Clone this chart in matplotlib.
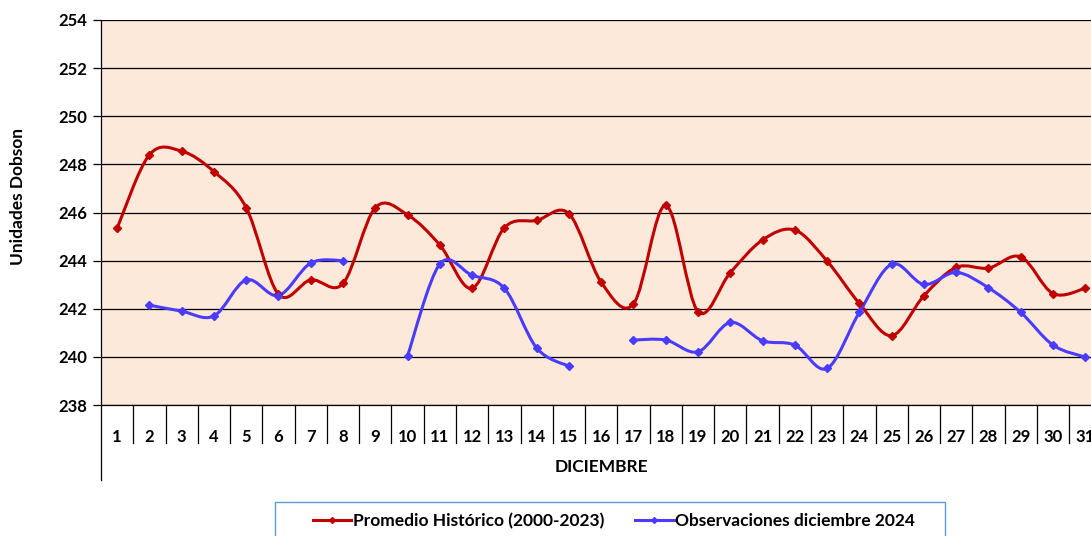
import matplotlib.pyplot as plt
from matplotlib.path import Path
from matplotlib.patches import PathPatch, Rectangle
from matplotlib.lines import Line2D
import numpy as np

plt.rcParams['font.family'] = ['Lato', 'DejaVu Sans']

days = list(range(1, 32))
promedio = [245.35, 248.4, 248.55, 247.7, 246.2, 242.6, 243.2, 243.05, 246.2, 245.9,
            244.65, 242.85, 245.37, 245.67, 245.95, 243.1, 242.2, 246.3, 241.88, 243.5,
            244.86, 245.27, 243.98, 242.22, 240.88, 242.54, 243.72, 243.69, 244.16, 242.63,
            242.85]
observ = [None, 242.15, 241.9, 241.7, 243.2, 242.55, 243.9, 244.0, None, 240.05,
          243.86, 243.39, 242.85, 240.37, 239.61, None, 240.7, 240.7, 240.21, 241.43,
          240.67, 240.49, 239.52, 241.85, 243.85, 243.01, 243.51, 242.87, 241.85, 240.49,
          239.99]

RED = '#C00000'
BLUE = '#4A3CFF'


def smooth_path(xs, ys):
    '''Excel-like smoothed line: cubic bezier through each run of points'''
    verts, codes = [], []
    runs, cur = [], []
    for x, y in zip(xs, ys):
        if y is None:
            if cur:
                runs.append(cur)
            cur = []
        else:
            cur.append((x, y))
    if cur:
        runs.append(cur)
    for run in runs:
        p = np.array(run, dtype=float)
        n = len(p)
        verts.append(p[0]); codes.append(Path.MOVETO)
        for i in range(n - 1):
            p0 = p[i - 1] if i > 0 else p[i]
            p3 = p[i + 2] if i + 2 < n else p[i + 1]
            c1 = p[i] + (p[i + 1] - p0) / 6.0
            c2 = p[i + 1] - (p3 - p[i]) / 6.0
            verts += [c1, c2, p[i + 1]]
            codes += [Path.CURVE4] * 3
    return Path(verts, codes)


fig = plt.figure(figsize=(10.91, 5.36), dpi=100)
ax = fig.add_axes([101 / 1091, 131 / 536, 1000.4 / 1091, 385 / 536])
ax.set_facecolor('#FDE9D9')
ax.set_xlim(0.5, 31.5)
ax.set_ylim(238, 254)
ax.set_yticks(range(238, 255, 2))
ax.yaxis.grid(True, color='black', linewidth=0.9)
ax.set_axisbelow(True)
for s in ['top', 'right']:
    ax.spines[s].set_visible(False)
ax.spines['bottom'].set_linewidth(0.9)
ax.spines['left'].set_linewidth(0.9)
ax.spines['left'].set_bounds(238, 254)

for vals, col in [(promedio, RED), (observ, BLUE)]:
    ax.add_patch(PathPatch(smooth_path(days, vals), facecolor='none',
                           edgecolor=col, linewidth=2.2, zorder=3))
    xs = [d for d, v in zip(days, vals) if v is not None]
    ys = [v for v in vals if v is not None]
    ax.plot(xs, ys, linestyle='none', marker='D', markersize=4, color=col, zorder=4)

ax.set_xticks(days)
ax.set_xticklabels([str(d) for d in days], fontsize=12, fontweight='bold')
ax.tick_params(axis='x', length=0, pad=17)
ax.tick_params(axis='y', length=6, width=0.9, labelsize=12, pad=4)
for lbl in ax.get_yticklabels():
    lbl.set_fontweight('bold')

# category boxes under the axis
trans = ax.get_xaxis_transform()
box_h = 38 / 385
for d in days:
    ax.plot([d + 0.5, d + 0.5], [0, -box_h], color='black', linewidth=0.9,
            transform=trans, clip_on=False)
ax.plot([0.5, 0.5], [0, -75 / 385], color='black', linewidth=0.9,
        transform=trans, clip_on=False)

fig.text(18 / 1091, 1 - 196 / 536, 'Unidades Dobson', rotation=90, fontsize=12.5,
         fontweight='bold', ha='center', va='center')
fig.text(601 / 1091, 1 - 467 / 536, 'DICIEMBRE', fontsize=12.5, fontweight='bold',
         ha='center', va='center')

# legend box
fig.patches.append(Rectangle((275 / 1091, -0.05), 670 / 1091, (536 - 502) / 536 + 0.05,
                             transform=fig.transFigure, facecolor='white',
                             edgecolor='#5B9BD5', linewidth=1.0))
handles = [Line2D([], [], color=RED, linewidth=2.2, marker='D', markersize=3),
           Line2D([], [], color=BLUE, linewidth=2.2, marker='D', markersize=3)]
fig.legend(handles, ['Promedio Histórico (2000-2023)', 'Observaciones diciembre 2024'],
           loc='center', bbox_to_anchor=(614 / 1091, 1 - 521 / 536), ncol=2,
           frameon=False, handlelength=2.2, handletextpad=0.1, columnspacing=1.8,
           prop={'weight': 'bold', 'size': 12.5})

fig.savefig('out.png', dpi=100)
